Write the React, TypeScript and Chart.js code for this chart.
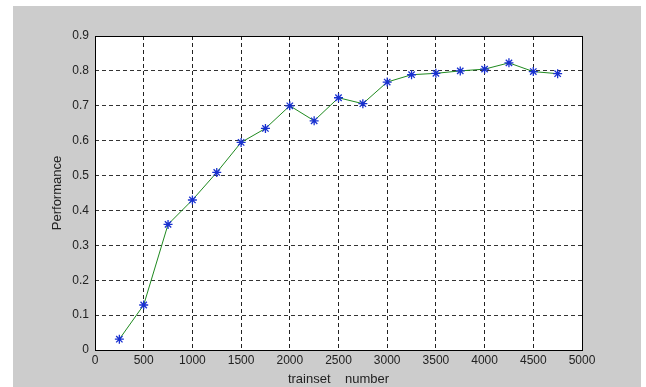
import React, { useEffect, useRef } from "react";
import { Chart, registerables } from "chart.js";

Chart.register(...registerables);

const trainsetNumbers = [250, 500, 750, 1000, 1250, 1500, 1750, 2000, 2250, 2500, 2750, 3000, 3250, 3500, 3750, 4000, 4250, 4500, 4750];
const performance = [0.031, 0.129, 0.36, 0.43, 0.509, 0.595, 0.635, 0.70, 0.657, 0.723, 0.706, 0.768, 0.789, 0.793, 0.80, 0.805, 0.823, 0.798, 0.792];
const xTickValues = [0, 500, 1000, 1500, 2000, 2500, 3000, 3500, 4000, 4500, 5000];
const yTickValues = [0, 0.1, 0.2, 0.3, 0.4, 0.5, 0.6, 0.7, 0.8, 0.9];
const xTitle = "trainset    number";
const yTitle = "Performance";

const FONT = "'Liberation Sans', Arial, sans-serif";

export default function App() {
  const ref = useRef<HTMLCanvasElement | null>(null);

  useEffect(() => {
    if (!ref.current) return;
    const framePlugin = {
      id: "frame",
      beforeDatasetsDraw(chart: any) {},
      beforeDraw(chart: any) {
        const { ctx, chartArea: a } = chart;
        ctx.save();
        ctx.fillStyle = "#ffffff";
        ctx.fillRect(a.left, a.top, a.right - a.left, a.bottom - a.top);
        ctx.restore();
      },
      afterDraw(chart: any) {
        const { ctx, chartArea: a } = chart;
        ctx.save();
        ctx.strokeStyle = "#000000";
        ctx.lineWidth = 1;
        ctx.setLineDash([]);
        ctx.strokeRect(Math.round(a.left) + 0.5, Math.round(a.top) + 0.5, Math.round(a.right - a.left), Math.round(a.bottom - a.top));
        ctx.restore();
      },
    };
    const chart = new Chart(ref.current, {
      type: "scatter",
      data: {
        datasets: [
          {
            data: trainsetNumbers.map((x, i) => ({ x, y: performance[i] })),
            showLine: true,
            borderColor: "#1f8a1f",
            borderWidth: 1,
            pointStyle: "star",
            pointRadius: 4.5,
            pointBorderColor: "#1830d0",
            pointBackgroundColor: "#1830d0",
            pointBorderWidth: 1.3,
            tension: 0,
          },
        ],
      },
      options: {
        animation: false,
        responsive: false,
        maintainAspectRatio: false,
        layout: { padding: { left: 0, right: 59, top: 30, bottom: 0 } },
        plugins: { legend: { display: false }, tooltip: { enabled: false } },
        scales: {
          x: {
            type: "linear",
            min: 0,
            max: 5000,
            afterBuildTicks: (scale: any) => {
              scale.ticks = xTickValues.map((v) => ({ value: v }));
            },
            afterFit: (scale: any) => {
              scale.height = 37;
            },
            grid: { color: "#222222", lineWidth: 1, drawTicks: false },
            border: { display: false, dash: [4, 3] },
            ticks: {
              color: "#222222",
              font: { family: FONT, size: 12 },
              padding: 3,
              maxRotation: 0,
              autoSkip: false,
              callback: (v: any) => String(v),
            },
            title: {
              display: true,
              text: xTitle,
              color: "#222222",
              font: { family: FONT, size: 13 },
              padding: { top: 3.5, bottom: 0 },
            },
          },
          y: {
            type: "linear",
            min: 0,
            max: 0.9,
            afterBuildTicks: (scale: any) => {
              scale.ticks = yTickValues.map((v) => ({ value: v }));
            },
            afterFit: (scale: any) => {
              scale.width = 82;
            },
            grid: { color: "#333333", lineWidth: 1, drawTicks: false },
            border: { display: false, dash: [4, 3] },
            ticks: {
              color: "#222222",
              font: { family: FONT, size: 12 },
              padding: 6,
              autoSkip: false,
              callback: (v: any) => (v === 0 ? "0" : Number(v).toFixed(1)),
            },
            title: {
              display: true,
              text: yTitle,
              color: "#222222",
              font: { family: FONT, size: 13 },
              padding: { top: 37, bottom: 0 },
            },
          },
        },
      },
      plugins: [framePlugin],
    });
    return () => chart.destroy();
  }, []);

  return (
    <div style={{ position: "absolute", left: 0, top: 0, width: 646, height: 387, background: "#ffffff" }}>
      <div style={{ position: "absolute", left: 13, top: 6, width: 628, height: 381, background: "#cccccc" }}>
        <canvas ref={ref} width={628} height={381} style={{ display: "block", width: 628, height: 381 }} />
      </div>
    </div>
  );
}
